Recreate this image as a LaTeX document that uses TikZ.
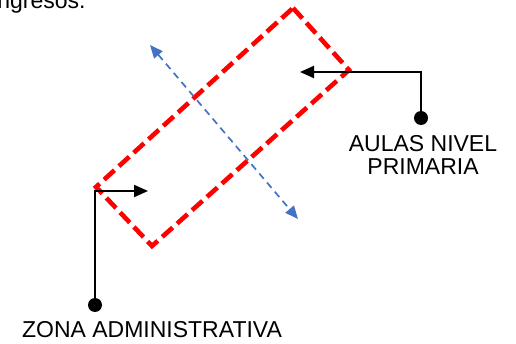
\documentclass[tikz,border=0pt]{standalone}
\usepackage{fontspec}
\setmainfont{Liberation Sans}
\usetikzlibrary{arrows.meta}
\definecolor{arrowblue}{RGB}{68,114,196}
\begin{document}
\begin{tikzpicture}[x=1pt,y=-1pt,
  zone/.style={draw=red,line width=4.6pt,dash pattern=on 14pt off 6pt},
  axis/.style={draw=arrowblue,line width=1.7pt,dash pattern=on 7pt off 5pt,
    {Triangle[length=13pt,width=11pt,fill=arrowblue]}-{Triangle[length=13pt,width=11pt,fill=arrowblue]}},
  pointer/.style={draw=black,line width=2pt,-{Triangle[length=14pt,width=12pt]}},
  dotmark/.style={circle,fill=black,inner sep=0pt,minimum size=14pt},
  label/.style={font=\fontsize{23}{23}\selectfont,inner sep=0pt,align=center}]
\clip (0,0) rectangle (516,344);
\fill[white] (0,0) rectangle (516,344);
% partially visible text at top
\node[label,anchor=base west] (ingr) at (-8,9) {ingresos.};
% rotated rectangle
\coordinate (ctop) at (293,8);
\coordinate (cright) at (349,70);
\coordinate (cbottom) at (152,246);
\coordinate (cleft) at (96,187);
\draw[zone] (ctop) -- (cright) -- (cbottom) -- (cleft) -- cycle;
% blue axis
\coordinate (ax1) at (150,45);
\coordinate (ax2) at (298,219);
\draw[axis] (ax1) -- (ax2);
% Zona administrativa pointer
\node[dotmark] (dotZ) at (95,305) {};
\coordinate (tipZ) at (148,191);
\draw[pointer] (dotZ.center) |- (tipZ);
% Aulas pointer
\node[dotmark] (dotA) at (421,118) {};
\coordinate (tipA) at (300,72);
\draw[pointer] (dotA.center) |- (tipA);
% labels
\node[label,anchor=base] (aulas) at (423,175) {AULAS NIVEL\\PRIMARIA};
\node[label,anchor=base] (zona) at (152,337) {ZONA ADMINISTRATIVA};
\end{tikzpicture}
\end{document}
